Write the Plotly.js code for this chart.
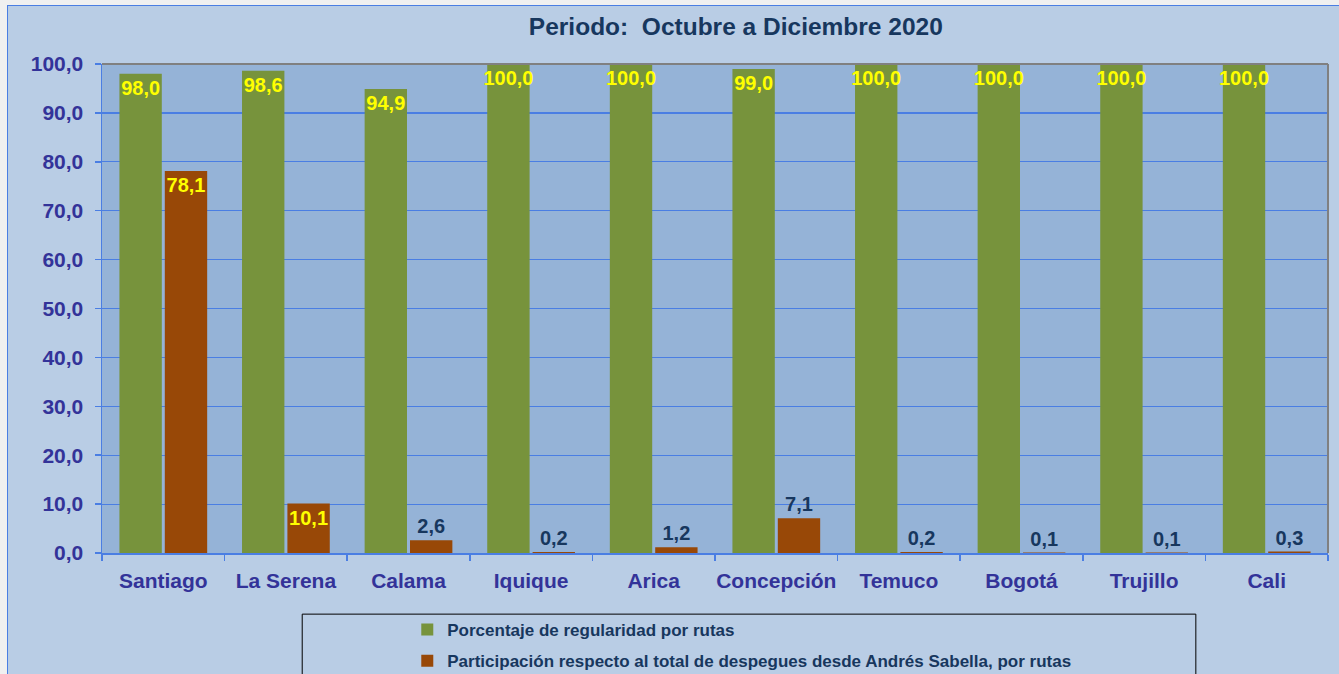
<!DOCTYPE html>
<html>
<head>
<meta charset="utf-8">
<script src="https://cdn.plot.ly/plotly-3.0.1.min.js"></script>
<style>
  html, body { margin: 0; padding: 0; background: #F0F0F0; width: 1339px; height: 674px; overflow: hidden; }
  #chart { position: absolute; left: 7px; top: 5px; width: 1332px; height: 669px;
           border-top: 1px solid #4A7EE3; border-left: 1px solid #4A7EE3; }
</style>
</head>
<body>
<div id="chart"></div>
<script>
const categories = ["Santiago", "La Serena", "Calama", "Iquique", "Arica", "Concepción", "Temuco", "Bogotá", "Trujillo", "Cali"];
const regularidad = [98.0, 98.6, 94.9, 100.0, 100.0, 99.0, 100.0, 100.0, 100.0, 100.0];
const participacion = [78.1, 10.1, 2.6, 0.2, 1.2, 7.1, 0.2, 0.1, 0.1, 0.3];
const seriesNames = ["Porcentaje de regularidad por rutas", "Participación respecto al total de despegues desde Andrés Sabella, por rutas"];
const yTicks = [0, 10, 20, 30, 40, 50, 60, 70, 80, 90, 100];

const FONT = "Liberation Sans, Arial, sans-serif";
const navy = "#333399";
const dark = "#17375E";

const traces = [
  {
    type: "bar", name: "<b>" + seriesNames[0] + "</b>", x: categories, y: regularidad,
    marker: { color: "#77933C", line: { width: 0 } },
    texttemplate: "<b>%{y:.1f}</b>", textposition: "inside", insidetextanchor: "end",
    textangle: 0, constraintext: "none", cliponaxis: false,
    textfont: { family: FONT, size: 20, color: "#FFFF00", weight: 700 },
    legendgroup: "a", hoverinfo: "x+y"
  },
  {
    type: "bar", name: "<b>" + seriesNames[1] + "</b>", x: categories, y: participacion,
    marker: { color: "#984807", line: { width: 0 } },
    texttemplate: "<b>%{y:.1f}</b>",
    textposition: participacion.map(v => v > 9 ? "inside" : "outside"),
    insidetextanchor: "end", textangle: 0, constraintext: "none", cliponaxis: false,
    textfont: { family: FONT, size: 20, weight: 700,
                color: participacion.map(v => v > 9 ? "#FFFF00" : dark) },
    legendgroup: "b", hoverinfo: "x+y"
  }
];

const layout = {
  width: 1332, height: 669,
  margin: { l: 94, r: 12, t: 58, b: 122, pad: 0 },
  paper_bgcolor: "#B9CDE5",
  plot_bgcolor: "#95B3D7",
  separators: ",.",
  font: { family: FONT, color: navy },
  title: {
    text: "<b>Periodo:&nbsp; Octubre a Diciembre 2020</b>",
    font: { family: FONT, size: 24.5, color: dark },
    xref: "paper", x: 0.517, xanchor: "center",
    yref: "container", y: 0.97, yanchor: "middle"
  },
  barmode: "group",
  bargap: 0.26,
  bargroupgap: 0.066,
  xaxis: {
    type: "category", automargin: false, tickangle: 0,
    tickvals: categories, ticktext: categories.map(c => "<b>" + c + "</b>"),
    showline: true, linecolor: "#4A7EE3", linewidth: 2,
    ticks: "outside", tickson: "boundaries", ticklen: 6, tickcolor: "#4A7EE3", tickwidth: 1.5,
    ticklabelstandoff: 8,
    tickfont: { family: FONT, size: 21, color: navy, weight: 700 },
    showgrid: false, zeroline: false, fixedrange: true
  },
  yaxis: {
    range: [0, 100], automargin: false,
    tickvals: yTicks, ticktext: yTicks.map(v => "<b>" + v.toFixed(1).replace(".", ",") + "</b>"),
    showline: true, linecolor: "#4A7EE3", linewidth: 1.5,
    ticks: "outside", ticklen: 6, tickcolor: "#4A7EE3", tickwidth: 1.5,
    ticklabelstandoff: 7,
    tickfont: { family: FONT, size: 21, color: navy, weight: 700 },
    showgrid: true, gridcolor: "#4A7EE3", gridwidth: 1.2,
    zeroline: false, fixedrange: true
  },
  showlegend: true,
  legend: {
    orientation: "v", xref: "paper", x: 0.249, xanchor: "left",
    yref: "container", y: 0.0942, yanchor: "top",
    bgcolor: "rgba(0,0,0,0)", borderwidth: 0,
    traceorder: "grouped", tracegroupgap: 6,
    font: { family: FONT, size: 17, color: dark, weight: 700 }
  },
  shapes: [
    { type: "line", xref: "paper", yref: "paper", x0: 0, x1: 1, y0: 1, y1: 1, line: { color: "#808080", width: 2 } },
    { type: "line", xref: "paper", yref: "paper", x0: 1, x1: 1, y0: 0, y1: 1, line: { color: "#808080", width: 2 } },
    { type: "rect", xref: "paper", yref: "paper", x0: 0.1633, x1: 0.8922, y0: -0.125, y1: -0.3,
      line: { color: "#000000", width: 1 }, fillcolor: "rgba(0,0,0,0)" }
  ]
};

Plotly.newPlot("chart", traces, layout, { displayModeBar: false, staticPlot: true });
</script>
</body>
</html>
